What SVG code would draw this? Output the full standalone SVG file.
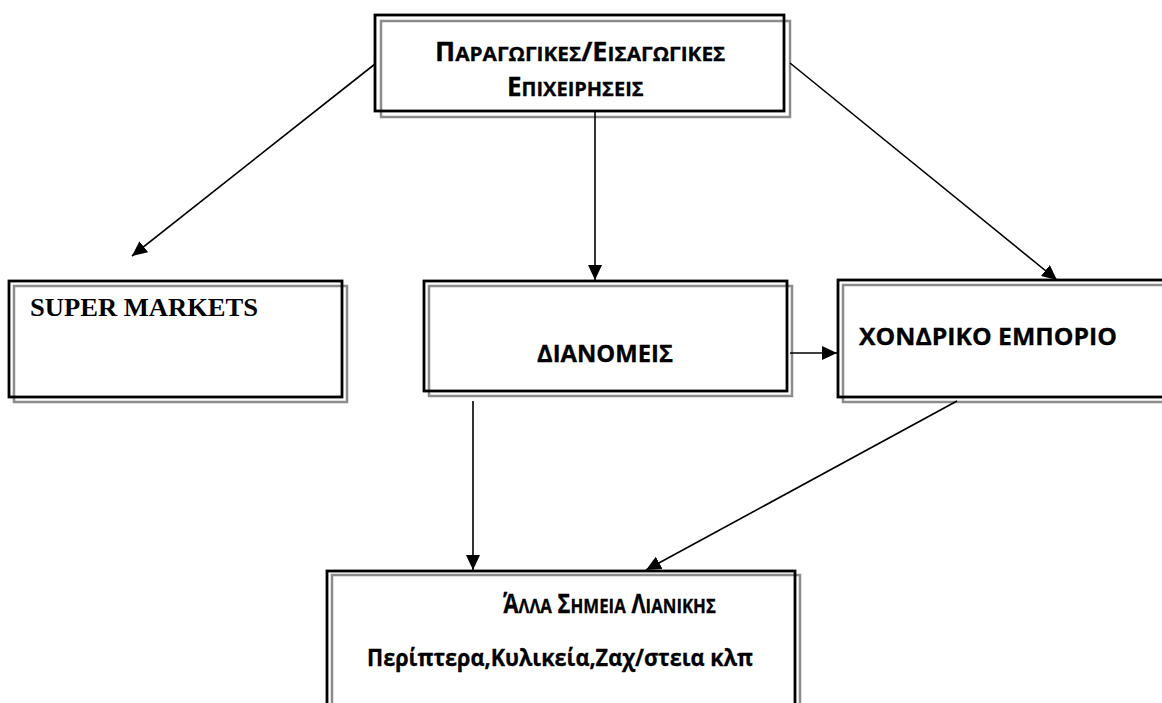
<svg xmlns="http://www.w3.org/2000/svg" width="1162" height="703" viewBox="0 0 1162 703">
<style>
.shadow{fill:none;stroke:#8c8c8c;stroke-width:2.5}
.frame{fill:none;stroke:#000;stroke-width:2.8}
.bg{fill:#fff}
.t{font-family:"Open Sans","Noto Sans","DejaVu Sans",sans-serif;font-weight:bold;fill:#000;stroke:#000;stroke-width:0.3}
.tr{font-family:"Liberation Serif","Times New Roman",serif;font-weight:bold;fill:#000}
.sm{font-size:20px}
.conn line{stroke:#000;stroke-width:1.6}
</style>
<defs>
<marker id="ah" viewBox="0 0 15 14" refX="15" refY="7" markerWidth="15" markerHeight="14" markerUnits="userSpaceOnUse" orient="auto">
<path d="M0,0 L15,7 L0,14 Z" fill="#000"/>
</marker>
</defs>
<rect width="1162" height="703" fill="#fff"/>

<g id="node-producers">
<rect class="bg" x="375" y="15" width="409" height="96"/>
<rect class="shadow" x="381" y="21" width="409" height="96"/>
<rect class="frame" x="375" y="15" width="409" height="96"/>
<text class="t" transform="translate(435,61) scale(1.04,1)" font-size="26">Π<tspan class="sm">ΑΡΑΓΩΓΙΚΕΣ</tspan>/Ε<tspan class="sm">ΙΣΑΓΩΓΙΚΕΣ</tspan></text>
<text class="t" transform="translate(507,96)" font-size="26">Ε<tspan class="sm">ΠΙΧΕΙΡΗΣΕΙΣ</tspan></text>
</g>

<g id="node-supermarkets">
<rect class="shadow" x="14" y="286" width="333" height="116"/>
<rect class="frame" x="9" y="281" width="333" height="116"/>
<text class="tr" x="30" y="316" font-size="26" textLength="228" lengthAdjust="spacingAndGlyphs">SUPER MARKETS</text>
</g>

<g id="node-distributors">
<rect class="shadow" x="429" y="286" width="363" height="110"/>
<rect class="frame" x="424" y="281" width="363" height="110"/>
<text class="t" x="537" y="362" font-size="23" textLength="136" lengthAdjust="spacingAndGlyphs">ΔΙΑΝΟΜΕΙΣ</text>
</g>

<g id="node-wholesale">
<rect class="shadow" x="843" y="285" width="330" height="117"/>
<rect class="frame" x="838" y="280" width="330" height="117"/>
<text class="t" x="859" y="345" font-size="24" textLength="258" lengthAdjust="spacingAndGlyphs">ΧΟΝΔΡΙΚΟ ΕΜΠΟΡΙΟ</text>
</g>

<g id="node-retail">
<rect class="shadow" x="332" y="575" width="468" height="150"/>
<rect class="frame" x="327" y="571" width="468" height="150"/>
<text class="t" transform="translate(503,613) scale(0.84,1)" font-size="26">Ά<tspan class="sm">ΛΛΑ</tspan> Σ<tspan class="sm">ΗΜΕΙΑ</tspan> Λ<tspan class="sm">ΙΑΝΙΚΗΣ</tspan></text>
<text class="t" x="367" y="666" font-size="23" textLength="386" lengthAdjust="spacingAndGlyphs">Περίπτερα,Κυλικεία,Ζαχ/στεια κλπ</text>
</g>

<g id="connectors" class="conn">
<line x1="375" y1="64" x2="132" y2="256" marker-end="url(#ah)"/>
<line x1="595" y1="112" x2="595" y2="280" marker-end="url(#ah)"/>
<line x1="790" y1="63" x2="1057" y2="280" marker-end="url(#ah)"/>
<line x1="790" y1="353" x2="837" y2="353" marker-end="url(#ah)"/>
<line x1="473" y1="401" x2="473" y2="570" marker-end="url(#ah)"/>
<line x1="957" y1="401" x2="646" y2="570" marker-end="url(#ah)"/>
</g>
</svg>
